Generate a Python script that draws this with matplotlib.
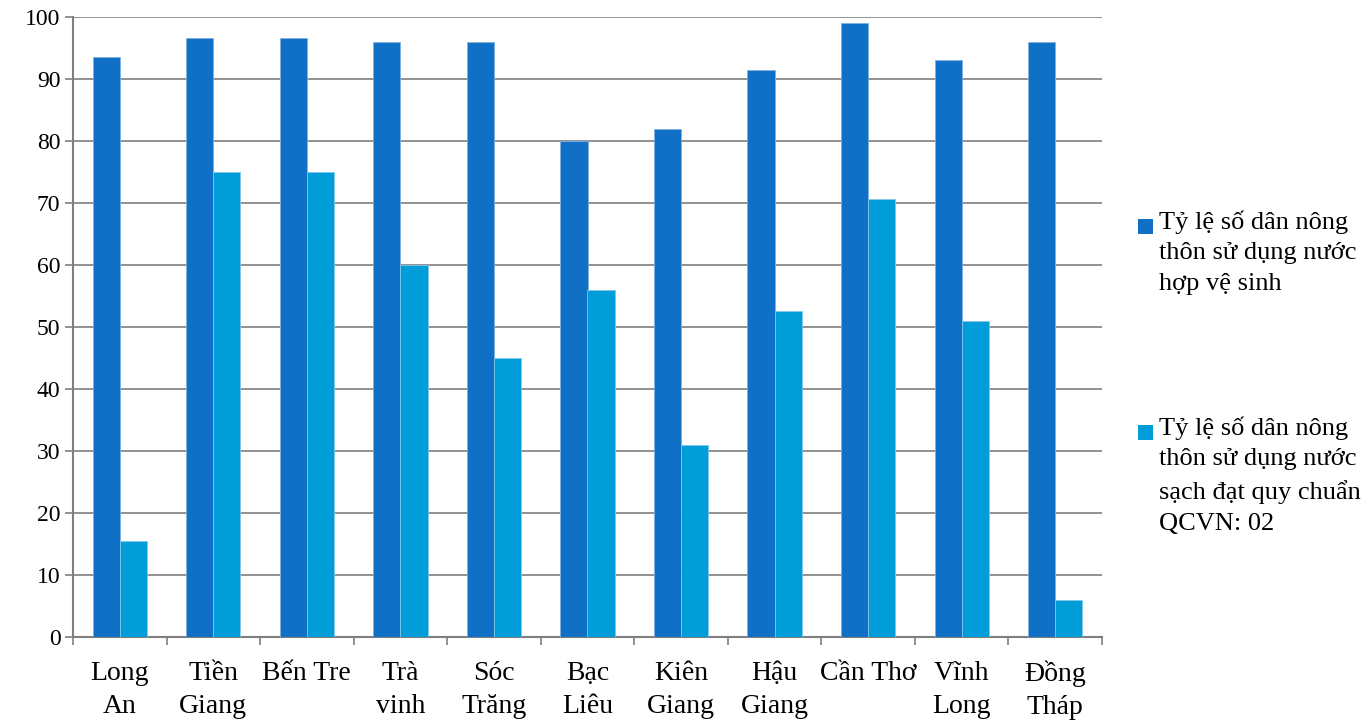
import matplotlib
matplotlib.use("Agg")
import matplotlib.pyplot as plt
import numpy as np
from matplotlib.patches import Rectangle

categories = ["Long\nAn", "Tiền\nGiang", "Bến Tre", "Trà\nvinh", "Sóc\nTrăng", "Bạc\nLiêu",
              "Kiên\nGiang", "Hậu\nGiang", "Cần Thơ", "Vĩnh\nLong", "Đồng\nTháp"]
series_names = ["Tỷ lệ số dân nông\nthôn sử dụng nước\nhợp vệ sinh",
                "Tỷ lệ số dân nông\nthôn sử dụng nước\nsạch đạt quy chuẩn\nQCVN: 02"]
hop_ve_sinh = [93.5, 96.6, 96.6, 96, 96, 80, 82, 91.5, 99, 93, 96]
dat_quy_chuan = [15.5, 75, 75, 60, 45, 56, 31, 52.6, 70.6, 51, 6]
yticks = [0, 10, 20, 30, 40, 50, 60, 70, 80, 90, 100]
colors = ["#1070C6", "#009DD9"]

plt.rcParams['font.family'] = ['Liberation Serif', 'DejaVu Serif']

fig = plt.figure(figsize=(13.68, 7.21), dpi=100)
ax = fig.add_axes([73/1368, 1-637/721, (1102-73)/1368, (637-17)/721])

x = np.arange(len(categories))
w = 0.29
ax.bar(x - w/2, hop_ve_sinh, w, color=colors[0], edgecolor="#7fb0e0", linewidth=0.6, zorder=3)
ax.bar(x + w/2, dat_quy_chuan, w, color=colors[1], edgecolor="#7fc8ea", linewidth=0.6, zorder=3)

ax.set_xlim(-0.5, len(categories) - 0.5)
ax.set_ylim(0, 100)
ax.set_yticks(yticks)
ax.set_yticklabels([str(v) for v in yticks], fontsize=17)
ax.yaxis.grid(True, color="#7f7f7f", linewidth=1.2, zorder=0)
ax.set_axisbelow(True)

ax.set_xticks(x)
ax.set_xticklabels(categories, fontsize=20, linespacing=1.42)
ax.set_xticks(np.arange(-0.5, len(categories)), minor=True)
ax.tick_params(axis='x', which='major', length=0, pad=17)
ax.tick_params(axis='x', which='minor', length=6, width=1.2, color="#7f7f7f", direction='out')
ax.tick_params(axis='y', length=6, width=1.2, color="#7f7f7f", pad=3)

for s in ["top", "right"]:
    ax.spines[s].set_visible(False)
for s in ["left", "bottom"]:
    ax.spines[s].set_color("#7f7f7f")
    ax.spines[s].set_linewidth(1.5)

# legend (handles aligned with first line of each label)
marker_tops = [219, 425]
text_tops = [210, 416]
for name, c, mt, tt in zip(series_names, colors, marker_tops, text_tops):
    fig.patches.append(Rectangle((1138/1368, 1 - (mt + 15)/721), 15/1368, 15/721,
                                 transform=fig.transFigure, facecolor=c, edgecolor='none'))
    fig.text(1159/1368, 1 - tt/721, name, fontsize=19, va='top', ha='left',
             linespacing=1.52)

fig.savefig("out.png", dpi=100)
